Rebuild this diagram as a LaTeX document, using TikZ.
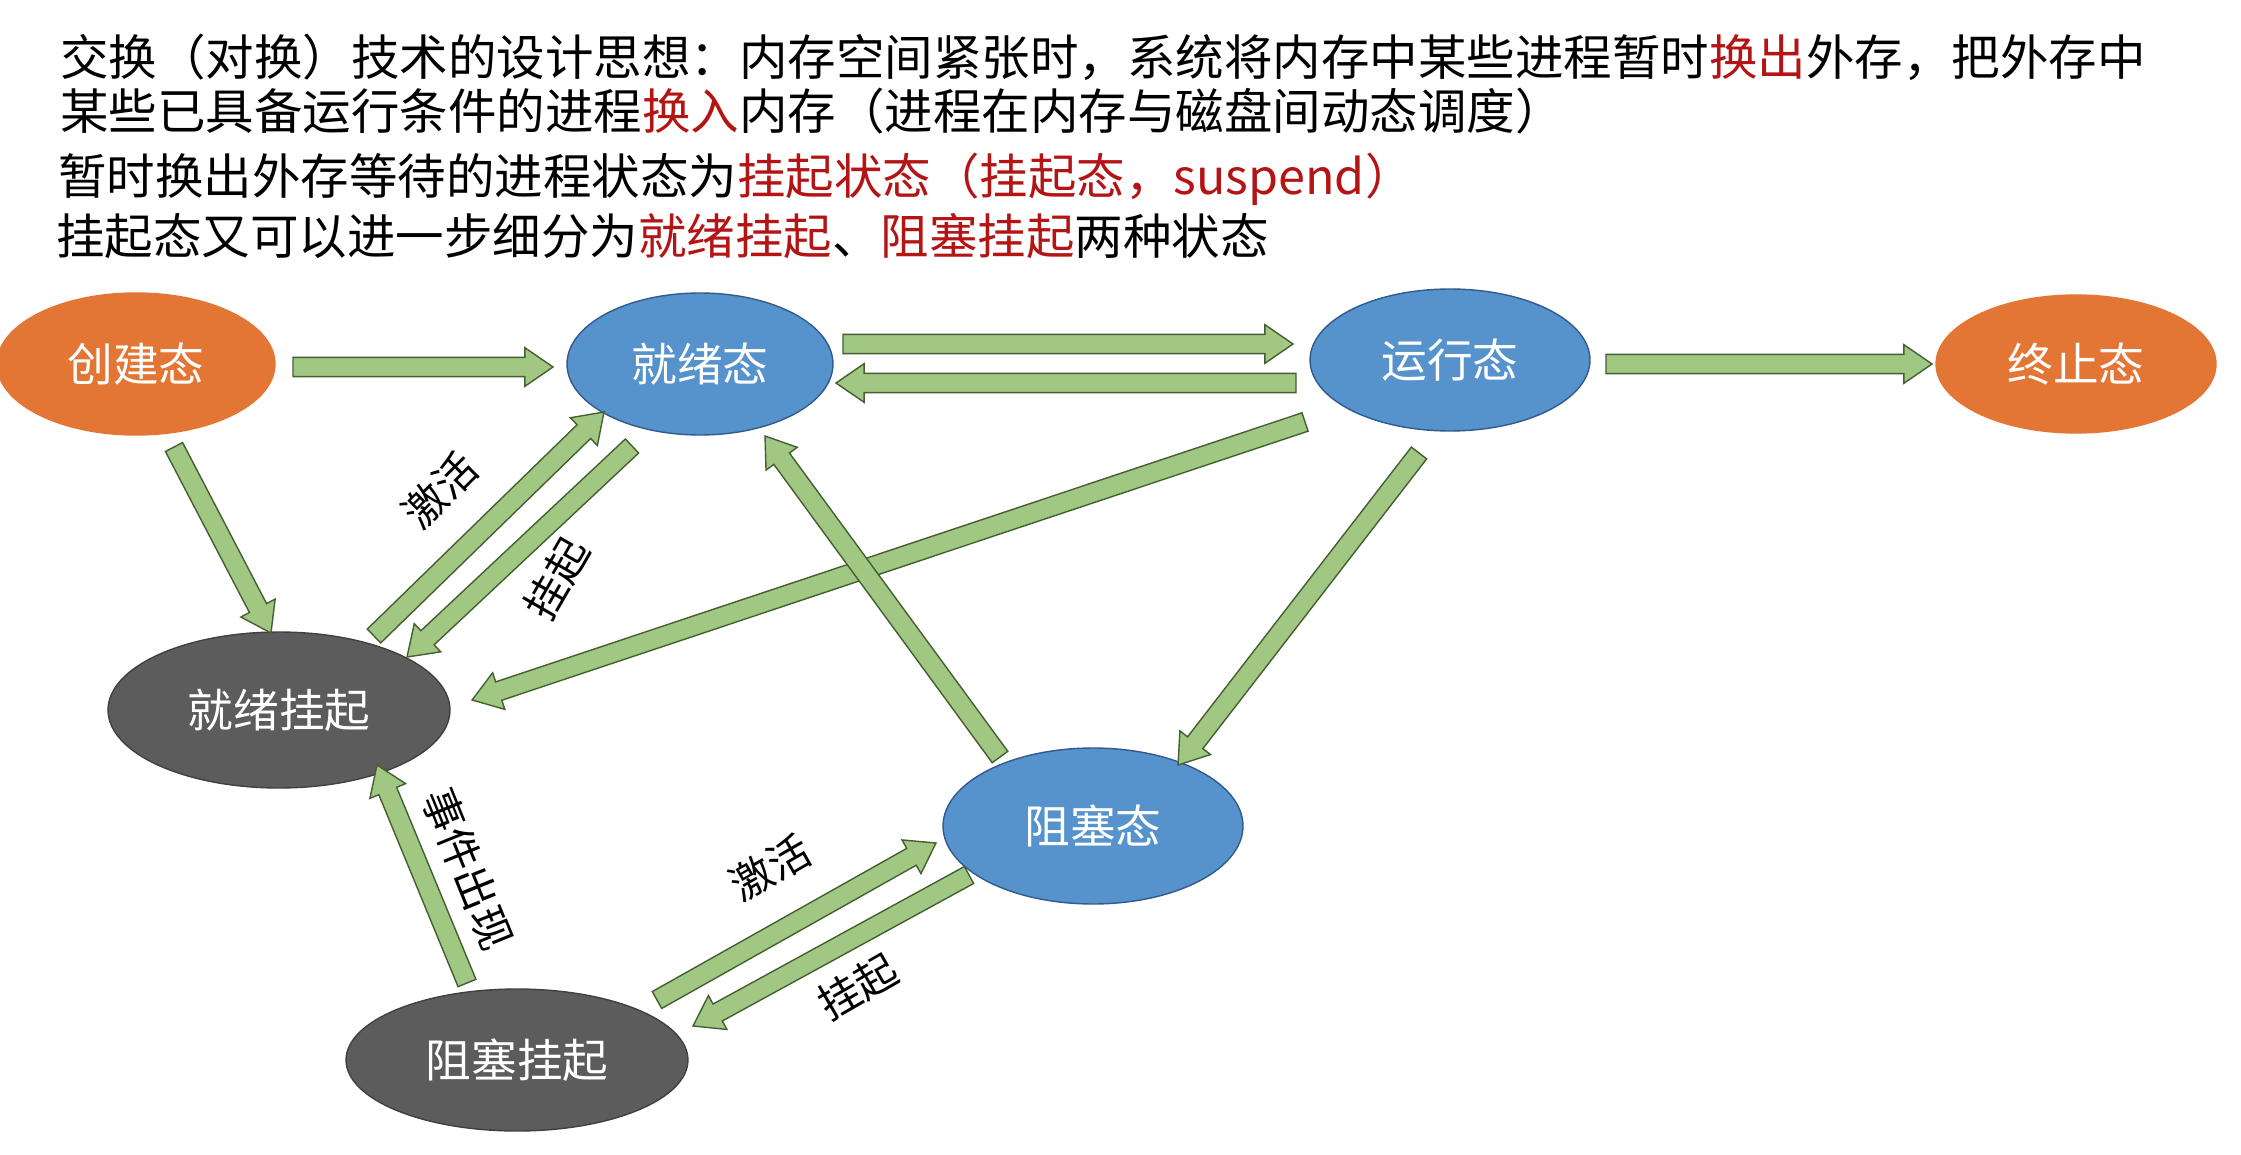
\documentclass[tikz,border=0pt]{standalone}
\usepackage{fontspec}
\setmainfont{Noto Sans CJK SC}
\usetikzlibrary{shapes.geometric,calc}
\definecolor{corange}{RGB}{227,118,52}
\definecolor{cblue}{RGB}{86,146,204}
\definecolor{cblueline}{RGB}{50,90,140}
\definecolor{cgray}{RGB}{92,92,92}
\definecolor{cgreen}{RGB}{160,200,130}
\definecolor{cgreenline}{RGB}{70,95,50}
\definecolor{cred}{RGB}{180,20,20}
\tikzset{
 st/.style={ellipse,draw=cblueline,line width=0.8pt,text=white,font=\fontsize{26}{30}\selectfont,inner sep=0pt},
 lbl/.style={font=\fontsize{24}{28}\selectfont,text=black,inner sep=1pt},
 hdr/.style={anchor=west,font=\fontsize{27.6}{32}\selectfont,inner sep=0pt}
}
\newcommand\bigarr[2]{%
 \path let \p1=(#1), \p2=(#2), \n1={atan2(\y2-\y1,\x2-\x1)}, \n2={veclen(\x2-\x1,\y2-\y1)} in
 [shift={(\p1)}, rotate=\n1] [fill=cgreen,draw=cgreenline,line width=0.8pt]
 (0pt,-5.5pt) -- (\n2-16pt,-5.5pt) -- (\n2-16pt,-11pt) -- (\n2,0pt) -- (\n2-16pt,11pt) -- (\n2-16pt,5.5pt) -- (0pt,5.5pt) -- cycle;}
\begin{document}
\begin{tikzpicture}[x=0.02cm,y=-0.02cm]
\useasboundingbox (0,0) rectangle (2241,1155);
\fill[white] (0,0) rectangle (2241,1155);
\node[hdr] (h1) at (60,57) {交换（对换）技术的设计思想：内存空间紧张时，系统将内存中某些进程暂时\textcolor{cred}{换出}外存，把外存中};
\node[hdr] (h2) at (60,111) {某些已具备运行条件的进程\textcolor{cred}{换入}内存（进程在内存与磁盘间动态调度）};
\node[hdr] (h3) at (58,179) {暂时换出外存等待的进程状态为\textcolor{cred}{挂起状态（挂起态，suspend）}};
\node[hdr] (h4) at (56,236) {挂起态又可以进一步细分为\textcolor{cred}{就绪挂起}、\textcolor{cred}{阻塞挂起}两种状态};

\node[st,fill=corange,draw=corange,minimum width=5.56cm,minimum height=2.84cm] (cj) at (136,364) {创建态};
\node[st,fill=cblue,minimum width=5.32cm,minimum height=2.84cm] (jx) at (700,364) {就绪态};
\node[st,fill=cblue,minimum width=5.6cm,minimum height=2.84cm] (yx) at (1450,360) {运行态};
\node[st,fill=corange,draw=corange,minimum width=5.6cm,minimum height=2.76cm] (zz) at (2076,364) {终止态};
\node[st,fill=cgray,draw=cgray!70!black,minimum width=6.84cm,minimum height=3.12cm] (jg) at (279,710) {就绪挂起};
\node[st,fill=cblue,minimum width=6cm,minimum height=3.12cm] (zs) at (1093,826) {阻塞态};
\node[st,fill=cgray,draw=cgray!70!black,minimum width=6.84cm,minimum height=2.84cm] (zg) at (517,1060) {阻塞挂起};

\foreach \n/\x/\y in {a1/293/367,b1/553/367, a2/843/344,b2/1293/344, a3/1296/383,b3/836/383,
 a4/1606/364,b4/1932/364, a5/174/447,b5/271/633, a6/374/636,b6/604/412, a7/632/446,b7/407/657,
 a8/1305/422,b8/472/700, a9/1419/453,b9/1178/765, a10/1000/757,b10/765/436,
 a11/467/983,b11/377/765, a12/657/1000,b12/936/843, a13/969/875,b13/693/1026}
 \coordinate (\n) at (\x,\y);
\foreach \i in {1,...,13} {\bigarr{a\i}{b\i}}

\node[lbl,rotate=45] (l1) at (440,490) {激活};
\node[lbl,rotate=60] (l2) at (557,579) {挂起};
\node[lbl,rotate=-68] (l3) at (468,869) {事件出现};
\node[lbl,rotate=30] (l4) at (770,868) {激活};
\node[lbl,rotate=30] (l5) at (858,987) {挂起};
\end{tikzpicture}
\end{document}
